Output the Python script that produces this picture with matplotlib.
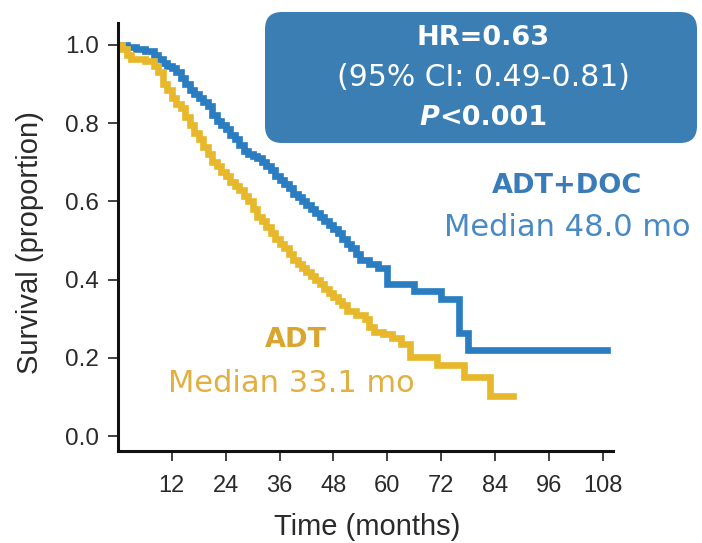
import matplotlib
matplotlib.use("Agg")
import matplotlib.pyplot as plt
from matplotlib.patches import FancyBboxPatch

# Kaplan-Meier step data (months, survival proportion)
docTime = [0, 2, 4, 6, 8, 9, 10, 11, 12, 13, 14, 15, 16, 17, 18, 19, 20, 21, 22, 23,
           24, 25, 26, 27, 28, 29, 30, 31, 32, 33, 34, 35, 36, 37, 38, 39, 40, 41, 42,
           43, 44, 45, 46, 47, 48, 49, 50, 51, 52, 53, 54, 56, 58, 60, 66, 72, 76, 78, 109]
docSurv = [1.0, 0.995, 0.99, 0.985, 0.975, 0.965, 0.955, 0.945, 0.94, 0.93, 0.915, 0.9,
           0.885, 0.875, 0.865, 0.855, 0.845, 0.82, 0.805, 0.795, 0.785, 0.77, 0.76, 0.745,
           0.73, 0.72, 0.715, 0.71, 0.70, 0.69, 0.68, 0.665, 0.655, 0.645, 0.635, 0.62,
           0.61, 0.60, 0.59, 0.58, 0.57, 0.56, 0.55, 0.54, 0.53, 0.52, 0.505, 0.49, 0.48,
           0.465, 0.45, 0.44, 0.43, 0.39, 0.37, 0.35, 0.263, 0.22, 0.22]

adtTime = [0, 1, 2, 3, 6, 8, 9, 10, 11, 12, 13, 14, 15, 16, 17, 18, 19, 20, 21, 22, 23,
           24, 25, 26, 27, 28, 29, 30, 31, 32, 33, 34, 35, 36, 37, 38, 39, 40, 41, 42, 43,
           44, 45, 46, 47, 48, 49, 50, 51, 53, 55, 56, 57, 59, 61, 63, 65, 71, 77, 83, 88]
adtSurv = [1.0, 0.99, 0.975, 0.965, 0.96, 0.945, 0.93, 0.90, 0.885, 0.865, 0.85, 0.84,
           0.815, 0.795, 0.775, 0.76, 0.74, 0.72, 0.70, 0.69, 0.675, 0.665, 0.65, 0.64,
           0.63, 0.615, 0.60, 0.58, 0.56, 0.55, 0.535, 0.52, 0.505, 0.49, 0.48, 0.465,
           0.45, 0.44, 0.43, 0.42, 0.41, 0.40, 0.39, 0.375, 0.365, 0.355, 0.345, 0.335,
           0.32, 0.31, 0.30, 0.28, 0.265, 0.26, 0.25, 0.235, 0.202, 0.182, 0.151, 0.102, 0.102]

xTicks = [12, 24, 36, 48, 60, 72, 84, 96, 108]
yTicks = [0.0, 0.2, 0.4, 0.6, 0.8, 1.0]

blue = "#2a7dc1"
yellow = "#e8b82c"
W, H = 702, 543

plt.rcParams['font.family'] = ['Liberation Sans', 'DejaVu Sans']

fig = plt.figure(figsize=(W / 100, H / 100), dpi=100)
ax = fig.add_axes([118 / W, 1 - 451 / H, (613 - 118) / W, (451 - 23) / H])

ax.plot(docTime, docSurv, drawstyle="steps-post", color=blue, linewidth=4.8, solid_joinstyle="miter")
ax.plot(adtTime, adtSurv, drawstyle="steps-post", color=yellow, linewidth=4.8, solid_joinstyle="miter")

ax.set_xlim(0, 110.3)
ax.set_ylim(-0.038, 1.056)
ax.set_xticks(xTicks)
ax.set_yticks(yTicks)
ax.set_yticklabels(["%.1f" % v for v in yTicks])
ax.tick_params(axis="both", direction="out", length=7, width=1.3, color="#333333",
               labelcolor="#2a2a2a")
ax.tick_params(axis="x", pad=10, labelsize=17)
ax.tick_params(axis="y", pad=7, labelsize=17.5)
for side in ["top", "right"]:
    ax.spines[side].set_visible(False)
for side in ["left", "bottom"]:
    ax.spines[side].set_linewidth(2.2)
    ax.spines[side].set_color("#111111")

fig.text(367 / W, 1 - 527 / H, "Time (months)", ha="center", va="center", fontsize=21, color="#2a2a2a")
fig.text(30 / W, 1 - 243 / H, "Survival (proportion)", ha="center", va="center", rotation=90,
         fontsize=21, color="#2a2a2a")

# HR box
box = FancyBboxPatch((2.65, 4.0), 4.32, 1.31, boxstyle="round,pad=0,rounding_size=0.17",
                     transform=fig.dpi_scale_trans, facecolor="#3b7eb4", edgecolor="none")
fig.add_artist(box)
lf = ['DejaVu Sans']
fig.text(483 / W, 1 - 38 / H, "HR=0.63", ha="center", va="center", fontsize=19.5,
         fontweight="bold", color="white", family=lf)
fig.text(483 / W, 1 - 78 / H, "(95% CI: 0.49-0.81)", ha="center", va="center", fontsize=21.5,
         color="white", family=lf)

# P value: italic P followed by the rest, centred together
pTxt = fig.text(0, 1 - 118 / H, "P", ha="left", va="center", fontsize=19.5,
                fontweight="bold", style="italic", color="white", family=lf)
restTxt = fig.text(0, 1 - 118 / H, "<0.001", ha="left", va="center", fontsize=19.5,
                   fontweight="bold", color="white", family=lf)
fig.canvas.draw()
r = fig.canvas.get_renderer()
wP = pTxt.get_window_extent(r).width
wR = restTxt.get_window_extent(r).width
x0 = 483 - (wP + wR) / 2
pTxt.set_x(x0 / W)
restTxt.set_x((x0 + wP) / W)

# Group labels
fig.text(567 / W, 1 - 186 / H, "ADT+DOC", ha="center", va="center", fontsize=19.5,
         fontweight="bold", color="#3a7cb8", family=lf)
fig.text(567 / W, 1 - 228 / H, "Median 48.0 mo", ha="center", va="center", fontsize=22,
         color="#4a8ac4", family=lf)
fig.text(296 / W, 1 - 340 / H, "ADT", ha="center", va="center", fontsize=19.5,
         fontweight="bold", color="#d9a52e", family=lf)
fig.text(291 / W, 1 - 383 / H, "Median 33.1 mo", ha="center", va="center", fontsize=22,
         color="#e2b040", family=lf)

fig.savefig("out.png", dpi=100)
